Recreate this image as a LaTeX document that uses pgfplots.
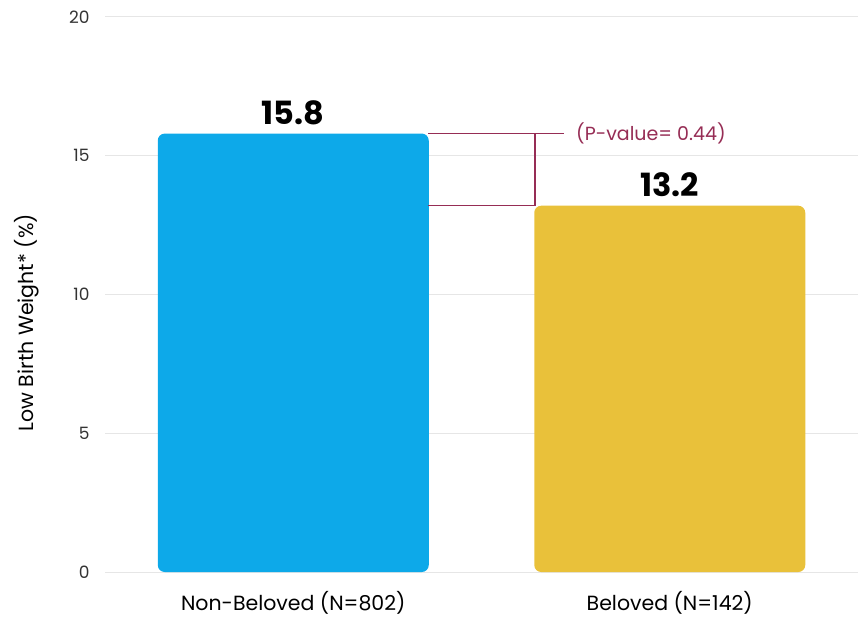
\documentclass[border=0pt]{standalone}
\usepackage{pgfplots}
\pgfplotsset{compat=1.18}
\usepackage{fontspec}
\setmainfont{Poppins}
\definecolor{barblue}{HTML}{0DA9E9}
\definecolor{baryellow}{HTML}{E9C13A}
\definecolor{pmaroon}{HTML}{962D55}
\definecolor{gridgray}{HTML}{E6E6E6}
\definecolor{ticktext}{HTML}{333333}
\begin{document}
\begin{tikzpicture}[x=1pt,y=1pt]
\path[use as bounding box] (0,0) rectangle (864,619);
\begin{axis}[
  at={(105pt,47pt)}, anchor=south west,
  scale only axis, width=753pt, height=555pt,
  xmin=-0.5, xmax=1.5, ymin=0, ymax=20,
  axis line style={draw=none},
  ytick={0,5,10,15,20},
  xtick={0,1},
  xticklabels={Non-Beloved (N=802), Beloved (N=142)},
  ymajorgrids, grid style={gridgray, line width=1pt},
  major tick length=0pt,
  /pgf/number format/assume math mode=true,
  tick label style={font=\fontsize{17}{20}\selectfont, text=ticktext},
  yticklabel style={xshift=-12pt},
  xticklabel style={font=\fontsize{20.5}{24}\selectfont, text=black, yshift=-16pt},
  ylabel={Low Birth Weight* (\%)},
  ylabel style={font=\fontsize{20.5}{24}\selectfont, at={(axis description cs:-0.104,0.449)}, anchor=center},
  clip=false,
  nodes near coords,
  nodes near coords style={font=\fontsize{32}{36}\bfseries\selectfont, text=black, yshift=5pt},
  point meta=explicit,
]
\addplot[ybar, bar width=271pt, fill=barblue, draw=none, rounded corners=7pt]
  coordinates {(0,15.8) [15.8]};
\addplot[ybar, bar width=271pt, fill=baryellow, draw=none, rounded corners=7pt]
  coordinates {(1,13.2) [13.2]};
% significance bracket between the two bar tops
\draw[pmaroon, line width=1.4pt]
  (axis cs:0.358,15.8) -- (axis cs:0.72,15.8);
\draw[pmaroon, line width=1.4pt]
  (axis cs:0.358,13.2) -- (axis cs:0.642,13.2) -- (axis cs:0.642,15.8);
\node[anchor=west, text=pmaroon, font=\fontsize{19}{22}\selectfont, inner sep=0pt]
  at (axis cs:0.751,15.8) {(P-value= 0.44)};
\end{axis}
\end{tikzpicture}
\end{document}
